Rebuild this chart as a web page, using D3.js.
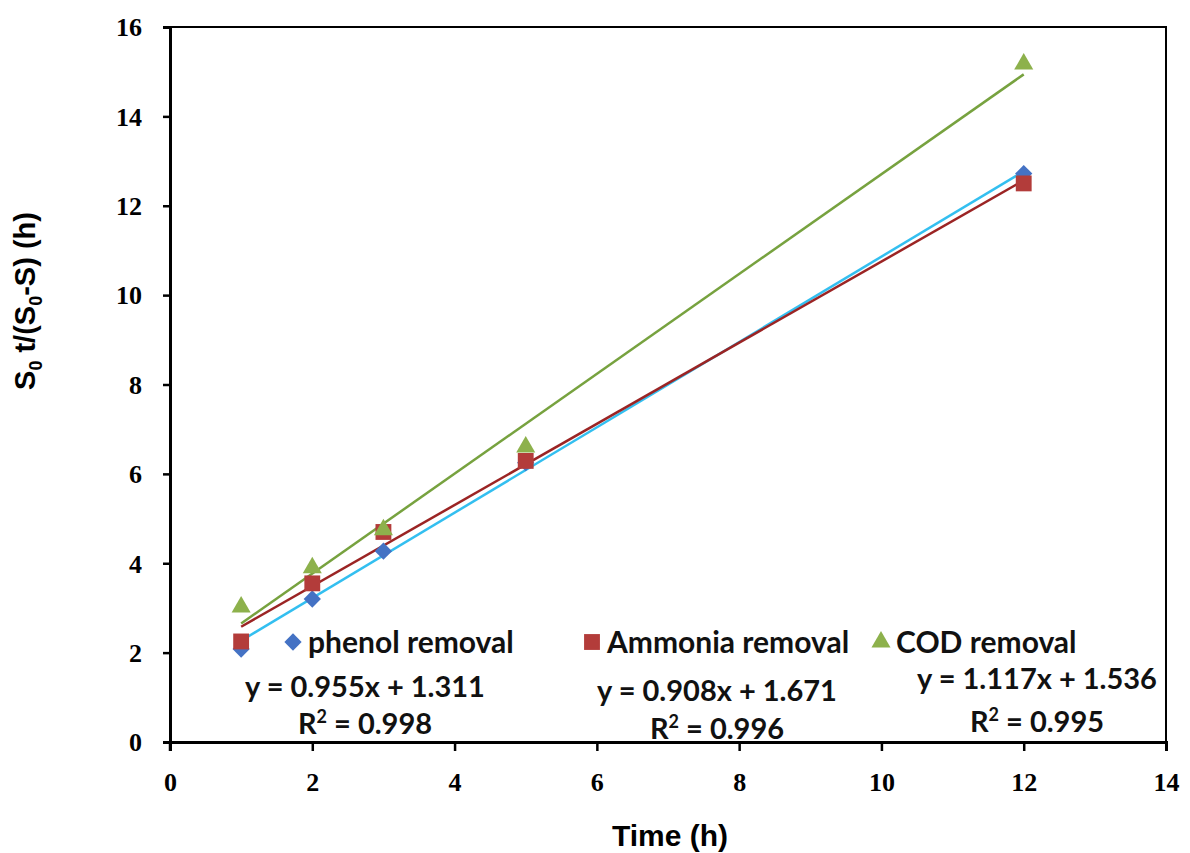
<!DOCTYPE html>
<html>
<head>
<meta charset="utf-8">
<script src="https://cdn.jsdelivr.net/npm/d3@7"></script>
<style>
  body { margin: 0; background: #fff; }
  .tick text { font-family: "Liberation Serif", "Times New Roman", serif; font-weight: bold; font-size: 26px; }
  .lbl { font-family: Lato, "Open Sans", sans-serif; font-weight: 700; fill: #111; }
</style>
</head>
<body>
<div id="chart"></div>
<script>
// data
var timeH = [1, 2, 3, 5, 12];
var phenol = [2.08, 3.2, 4.27, 6.25, 12.72];
var ammonia = [2.25, 3.55, 4.7, 6.29, 12.5];
var cod = [3.02, 3.9, 4.75, 6.6, 15.17];
var seriesNames = ["phenol removal", "Ammonia removal", "COD removal"];
var slopes = [0.955, 0.908, 1.117];
var intercepts = [1.311, 1.671, 1.536];
var r2 = ["0.998", "0.996", "0.995"];
var xTicks = [0, 2, 4, 6, 8, 10, 12, 14];
var yTicks = [0, 2, 4, 6, 8, 10, 12, 14, 16];

var W = 1190, H = 853;
var margin = {top: 27, right: 24, bottom: 111, left: 170};

var svg = d3.select("#chart").append("svg")
    .attr("width", W).attr("height", H);

var x = d3.scaleLinear().domain([0, 14]).range([margin.left, W - margin.right]);
var y = d3.scaleLinear().domain([0, 16]).range([H - margin.bottom, margin.top]);

// plot border (top + right, thinner)
svg.append("rect")
    .attr("x", x(0)).attr("y", y(16))
    .attr("width", x(14) - x(0)).attr("height", y(0) - y(16))
    .attr("fill", "none").attr("stroke", "#000").attr("stroke-width", 2);

var xAxis = svg.append("g")
    .attr("transform", "translate(0," + y(0) + ")")
    .call(d3.axisBottom(x).tickValues(xTicks).tickSize(9).tickPadding(22).tickFormat(d3.format("d")));
var yAxis = svg.append("g")
    .attr("transform", "translate(" + x(0) + ",0)")
    .call(d3.axisLeft(y).tickValues(yTicks).tickSize(7).tickPadding(21).tickFormat(d3.format("d")));

[xAxis, yAxis].forEach(function (a) {
    a.select(".domain").attr("stroke-width", 3);
    a.selectAll(".tick line").attr("stroke-width", 2.5);
    a.selectAll(".tick text").attr("fill", "#000");
});
yAxis.selectAll(".tick text").attr("dy", "0.34em");
// small tick below the origin on y axis
svg.append("line").attr("x1", x(0)).attr("x2", x(0))
    .attr("y1", y(0)).attr("y2", y(0) + 9)
    .attr("stroke", "#000").attr("stroke-width", 2.5);

// axis titles
svg.append("text")
    .attr("x", 670).attr("y", 846)
    .attr("text-anchor", "middle")
    .style("font-family", "'Liberation Sans Narrow', 'Arial Narrow', sans-serif")
    .style("font-weight", "bold").style("font-size", "29px")
    .attr("textLength", 116).attr("lengthAdjust", "spacingAndGlyphs")
    .text("Time (h)");

var yt = svg.append("text")
    .attr("transform", "translate(35,301) rotate(-90)")
    .attr("text-anchor", "middle")
    .style("font-family", "'Liberation Sans', Arial, sans-serif")
    .style("font-weight", "bold").style("font-size", "29px");
yt.append("tspan").text("S");
yt.append("tspan").attr("dy", 7).style("font-size", "18px").text("0");
yt.append("tspan").attr("dy", -7).text(" t/(S");
yt.append("tspan").attr("dy", 7).style("font-size", "18px").text("0");
yt.append("tspan").attr("dy", -7).text("-S) (h)");

var colors = {
    marker: ["#4472C4", "#B33C3A", "#8DB14C"],
    line: ["#33BFF0", "#9B2424", "#77A23F"]
};
var allData = [phenol, ammonia, cod];

// trendlines
allData.forEach(function (vals, i) {
    var ext = d3.extent(timeH);
    svg.append("line")
        .attr("x1", x(ext[0])).attr("y1", y(slopes[i] * ext[0] + intercepts[i]))
        .attr("x2", x(ext[1])).attr("y2", y(slopes[i] * ext[1] + intercepts[i]))
        .attr("stroke", colors.line[i]).attr("stroke-width", 2.5);
});

var shapes = [
    d3.symbol().type(d3.symbolDiamond2).size(190),
    d3.symbol().type(d3.symbolSquare2).size(320),
    d3.symbol().type(d3.symbolTriangle2).size(260)
];

// markers (phenol drawn first, then ammonia, then COD on top)
allData.forEach(function (vals, i) {
    svg.append("g").selectAll("path")
        .data(timeH.map(function (t, k) { return [t, vals[k]]; }))
        .join("path")
        .attr("transform", function (d) { return "translate(" + x(d[0]) + "," + y(d[1]) + ")"; })
        .attr("d", shapes[i])
        .attr("fill", colors.marker[i]);
});

// legend entries and regression labels
var legendX = [293, 592, 881];
var legendY = 642;
var eqX = [365, 717, 1037];
var eqY = [697, 701, 689];
var r2Y = [734, 739, 732];

seriesNames.forEach(function (name, i) {
    svg.append("path")
        .attr("transform", "translate(" + legendX[i] + "," + legendY + ")")
        .attr("d", shapes[i])
        .attr("fill", colors.marker[i]);
    svg.append("text").attr("class", "lbl")
        .attr("x", legendX[i] + 15).attr("y", legendY + 11)
        .style("font-size", "30px")
        .text(name);
    svg.append("text").attr("class", "lbl")
        .attr("x", eqX[i]).attr("y", eqY[i]).attr("text-anchor", "middle")
        .style("font-size", "29px")
        .text("y = " + d3.format(".3f")(slopes[i]) + "x + " + d3.format(".3f")(intercepts[i]));
    var r = svg.append("text").attr("class", "lbl")
        .attr("x", eqX[i]).attr("y", r2Y[i]).attr("text-anchor", "middle")
        .style("font-size", "29px");
    r.append("tspan").text("R");
    r.append("tspan").attr("dy", -11).style("font-size", "18px").text("2");
    r.append("tspan").attr("dy", 11).text(" = " + r2[i]);
});
</script>
</body>
</html>
